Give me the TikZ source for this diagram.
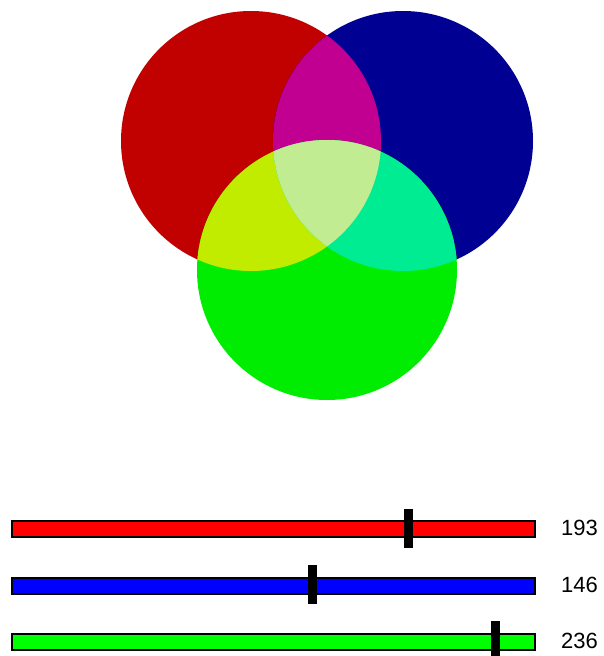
\documentclass[tikz,border=0pt]{standalone}
\usepackage{fontspec}
\setmainfont{Liberation Sans}
\usetikzlibrary{positioning}
\definecolor{colRed}{RGB}{193,0,0}
\definecolor{colBlue}{RGB}{0,0,146}
\definecolor{colGreen}{RGB}{0,236,0}
\definecolor{colRB}{RGB}{193,0,146}
\definecolor{colRG}{RGB}{193,236,0}
\definecolor{colBG}{RGB}{0,236,146}
\definecolor{colRGB}{RGB}{193,236,146}
\definecolor{barRed}{RGB}{255,0,0}
\definecolor{barBlue}{RGB}{0,0,255}
\definecolor{barGreen}{RGB}{0,255,0}
\tikzset{
  sliderbar/.style={
    rectangle, draw=black, line width=1.5pt,
    minimum width=523pt, minimum height=16pt,
    inner sep=0pt
  },
  knob/.style={
    rectangle, fill=black,
    minimum width=9pt, minimum height=39pt,
    inner sep=0pt
  },
  valLabel/.style={
    anchor=west, inner sep=0pt,
    font=\fontsize{22}{24}\selectfont
  }
}
\begin{document}
\begin{tikzpicture}[x=1pt, y=-1pt]
  \useasboundingbox (0,0) rectangle (603,656);

  \coordinate (cRed) at (251,141);
  \coordinate (cBlue) at (403,141);
  \coordinate (cGreen) at (327,270);
  \def\rad{130}

  % the three discs
  \fill[colRed] (cRed) circle (\rad);
  \fill[colBlue] (cBlue) circle (\rad);
  \fill[colGreen] (cGreen) circle (\rad);

  % overlaps, added channel by channel
  \begin{scope}
    \clip (cRed) circle (\rad);
    \fill[colRB] (cBlue) circle (\rad);
    \fill[colRG] (cGreen) circle (\rad);
  \end{scope}
  \begin{scope}
    \clip (cBlue) circle (\rad);
    \fill[colBG] (cGreen) circle (\rad);
  \end{scope}
  \begin{scope}
    \clip (cRed) circle (\rad);
    \clip (cBlue) circle (\rad);
    \fill[colRGB] (cGreen) circle (\rad);
  \end{scope}

  % sliders
  \node[sliderbar, fill=barRed] (redbar) at (273.5,529) {};
  \node[sliderbar, fill=barBlue] (bluebar) at (273.5,586) {};
  \node[sliderbar, fill=barGreen] (greenbar) at (273.5,642) {};

  \node[knob] (redknob) at (408,528.5) {};
  \node[knob] (blueknob) at (312,584.5) {};
  \node[knob] (greenknob) at (495,640.5) {};

  \node[valLabel] (redval) at (561,528) {193};
  \node[valLabel] (blueval) at (561,585) {146};
  \node[valLabel] (greenval) at (561,641) {236};

\end{tikzpicture}
\end{document}
